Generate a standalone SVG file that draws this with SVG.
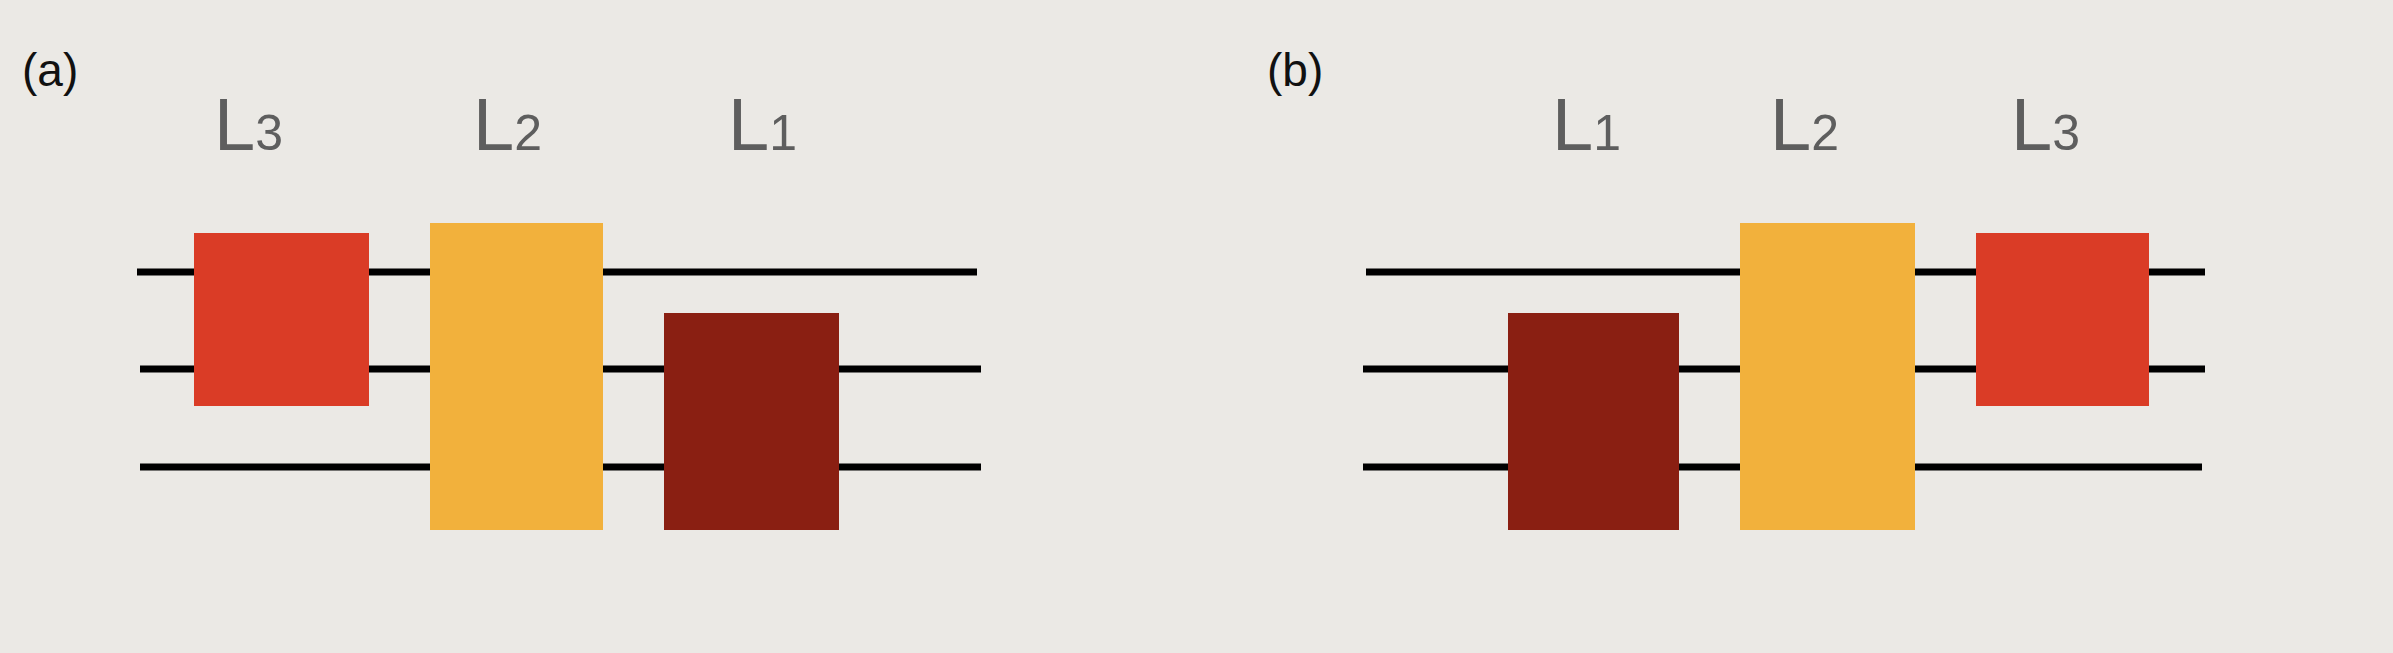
<svg xmlns="http://www.w3.org/2000/svg" width="2393" height="653" viewBox="0 0 2393 653">
<style>
.ln{stroke:#000;stroke-width:7}
.lab{font-family:"Liberation Sans",Arial,sans-serif;font-size:74px;fill:#5e5e5e}
.sub{font-size:50px}
.tag{font-family:"Liberation Sans",Arial,sans-serif;font-size:46px;fill:#111}
.r{fill:#da3c26}.y{fill:#f2b13c}.d{fill:#8a1f12}
</style>
<rect width="2393" height="653" fill="#ebe9e5"/>
<g id="connectors">
<line class="ln" x1="137" y1="272" x2="977" y2="272"/>
<line class="ln" x1="140" y1="369" x2="981" y2="369"/>
<line class="ln" x1="140" y1="467" x2="981" y2="467"/>
<line class="ln" x1="1366" y1="272" x2="2205" y2="272"/>
<line class="ln" x1="1363" y1="369" x2="2205" y2="369"/>
<line class="ln" x1="1363" y1="467" x2="2202" y2="467"/>
</g>
<text class="tag" x="22" y="86">(a)</text>
<text class="tag" x="1267" y="86">(b)</text>
<g id="a-L3"><rect class="r" x="194" y="233" width="175" height="173"/><text class="lab" x="214" y="150">L<tspan class="sub" dy="0">3</tspan></text></g>
<g id="a-L2"><rect class="y" x="430" y="223" width="173" height="307"/><text class="lab" x="473" y="150">L<tspan class="sub">2</tspan></text></g>
<g id="a-L1"><rect class="d" x="664" y="313" width="175" height="217"/><text class="lab" x="728" y="150">L<tspan class="sub">1</tspan></text></g>
<g id="b-L1"><rect class="d" x="1508" y="313" width="171" height="217"/><text class="lab" x="1552" y="150">L<tspan class="sub">1</tspan></text></g>
<g id="b-L2"><rect class="y" x="1740" y="223" width="175" height="307"/><text class="lab" x="1770" y="150">L<tspan class="sub">2</tspan></text></g>
<g id="b-L3"><rect class="r" x="1976" y="233" width="173" height="173"/><text class="lab" x="2011" y="150">L<tspan class="sub">3</tspan></text></g>
</svg>
